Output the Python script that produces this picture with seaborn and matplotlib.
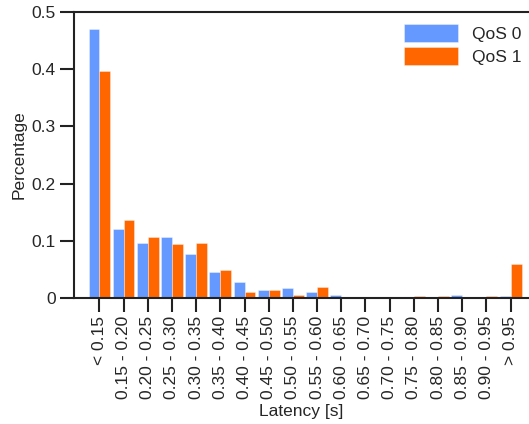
import matplotlib
matplotlib.use("Agg")
import matplotlib.pyplot as plt
import seaborn as sns
import pandas as pd

# Latency histogram buckets
buckets = ["< 0.15", "0.15 - 0.20", "0.20 - 0.25", "0.25 - 0.30", "0.30 - 0.35",
           "0.35 - 0.40", "0.40 - 0.45", "0.45 - 0.50", "0.50 - 0.55", "0.55 - 0.60",
           "0.60 - 0.65", "0.65 - 0.70", "0.70 - 0.75", "0.75 - 0.80", "0.80 - 0.85",
           "0.85 - 0.90", "0.90 - 0.95", "> 0.95"]

qos0 = [0.470, 0.120, 0.097, 0.106, 0.077, 0.045, 0.028, 0.014, 0.017, 0.011,
        0.005, 0.0, 0.0, 0.0, 0.0, 0.005, 0.0, 0.003]
qos1 = [0.397, 0.137, 0.106, 0.094, 0.097, 0.049, 0.011, 0.014, 0.005, 0.020,
        0.0, 0.0, 0.0, 0.003, 0.003, 0.0, 0.003, 0.060]

series_names = ["QoS 0", "QoS 1"]
colors = ["#6699FF", "#FF6600"]

df = pd.DataFrame({
    "Latency": buckets * 2,
    "Percentage": qos0 + qos1,
    "QoS": [series_names[0]] * len(buckets) + [series_names[1]] * len(buckets),
})

sns.set_style("white")
plt.rcParams["font.family"] = ["Liberation Sans", "DejaVu Sans"]
plt.rcParams["font.size"] = 12.5

fig = plt.figure(figsize=(5.29, 4.24), dpi=100)
ax = fig.add_axes([74 / 529, 1 - 298 / 424, 1 - 74 / 529, (298 - 12) / 424])

sns.barplot(data=df, x="Latency", y="Percentage", hue="QoS", order=buckets,
            hue_order=series_names, palette=colors, width=0.9, saturation=1,
            edgecolor=(1, 1, 1, 0.5), linewidth=0.5, ax=ax)

ax.set_xlim(-1.05, 17.76)
ax.set_ylim(0, 0.5)
ax.set_yticks([0, 0.1, 0.2, 0.3, 0.4, 0.5])
ax.set_yticklabels(["0", "0.1", "0.2", "0.3", "0.4", "0.5"])
ax.set_xticks(range(len(buckets)))
ax.set_xticklabels(buckets, rotation=90, ha="center", va="top")

for side in ["left", "bottom", "top"]:
    ax.spines[side].set_visible(True)
    ax.spines[side].set_color("#222222")
    ax.spines[side].set_linewidth(1.5)
ax.spines["right"].set_visible(False)

ax.tick_params(axis="both", direction="out", length=10, width=1.5, color="#222222",
               labelsize=12.5, pad=3, bottom=True, left=True)

ax.set_xlabel("Latency [s]", fontsize=12.5, labelpad=3)
ax.set_ylabel("Percentage", fontsize=12.5, labelpad=4)

ax.legend(title=None, frameon=False, loc="upper right", fontsize=12.5,
          handlelength=3.1, handleheight=1.25, borderaxespad=0.05,
          handletextpad=0.8, labelspacing=0.25, bbox_to_anchor=(1.0, 0.985))

fig.savefig("out.png", dpi=100)
